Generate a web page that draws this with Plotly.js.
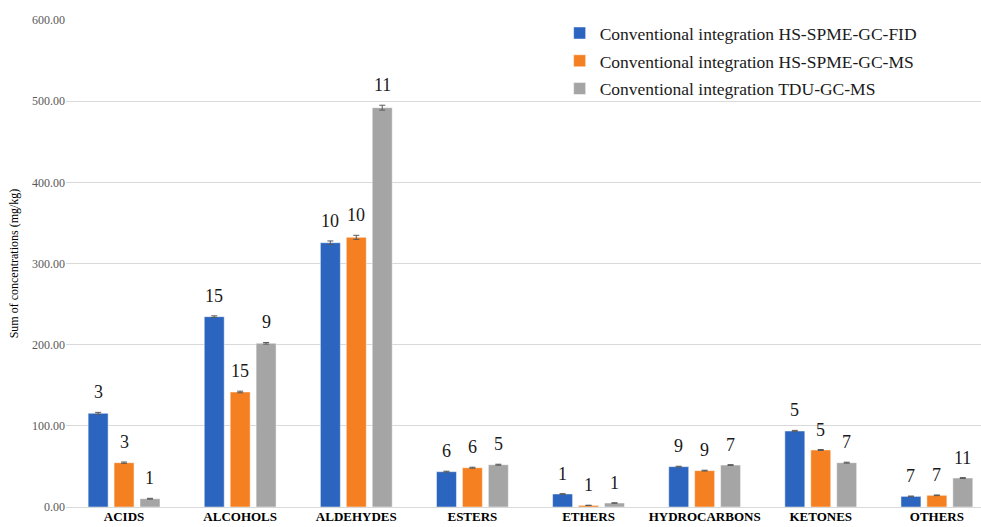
<!DOCTYPE html>
<html>
<head>
<meta charset="utf-8">
<script src="https://cdn.plot.ly/plotly-3.0.1.min.js"></script>
<style>html,body{margin:0;padding:0;background:#fff;}#chart{width:981px;height:527px;}</style>
</head>
<body>
<div id="chart"></div>
<script>
const categories = ["ACIDS","ALCOHOLS","ALDEHYDES","ESTERS","ETHERS","HYDROCARBONS","KETONES","OTHERS"];
const seriesNames = ["Conventional integration HS-SPME-GC-FID","Conventional integration HS-SPME-GC-MS","Conventional integration TDU-GC-MS"];
const fidValues = [115.4, 234.5, 325.6, 43.5, 16.0, 49.7, 93.6, 13.1];
const msValues  = [54.6, 141.7, 332.2, 48.4, 2.0, 44.8, 70.2, 14.4];
const tduValues = [10.2, 201.7, 492.0, 52.1, 4.9, 51.7, 54.6, 35.7];
const fidErrors = [1.2, 1.0, 2.2, 0.6, 0.4, 0.5, 0.8, 0.4];
const msErrors  = [0.8, 1.0, 2.5, 0.6, 0.2, 0.5, 0.6, 0.4];
const tduErrors = [0.5, 1.0, 3.0, 0.6, 0.3, 0.5, 0.6, 0.5];
const fidCounts = [3, 15, 10, 6, 1, 9, 5, 7];
const msCounts  = [3, 15, 10, 6, 1, 9, 5, 7];
const tduCounts = [1, 9, 11, 5, 1, 7, 7, 11];
const colors = ["#2B65BF", "#F58021", "#A5A5A5"];

const values = [fidValues, msValues, tduValues];
const errors = [fidErrors, msErrors, tduErrors];
const counts = [fidCounts, msCounts, tduCounts];
const SERIF = "Liberation Serif";

const traces = values.map((v, i) => ({
  type: "bar",
  name: seriesNames[i],
  legendgroup: "g" + i,
  x: categories,
  y: v,
  marker: {color: colors[i], line: {color: "rgba(255,255,255,0.6)", width: 0.8}},
  error_y: {type: "data", array: errors[i], visible: true, color: "#595959", thickness: 1, width: 3},
  hoverinfo: "y"
}));

const slotPx = 25.9;
const annotations = [];
values.forEach((v, i) => {
  v.forEach((val, j) => {
    annotations.push({
      x: categories[j], y: val + errors[i][j], xref: "x", yref: "y",
      text: String(counts[i][j]), showarrow: false,
      xshift: (i - 1) * slotPx, yanchor: "bottom", yshift: 8,
      font: {family: SERIF, size: 18, color: "#1a1a1a"}
    });
  });
});

const layout = {
  width: 981, height: 527,
  margin: {l: 66, r: 0, t: 20, b: 20},
  paper_bgcolor: "#fff", plot_bgcolor: "#fff",
  font: {family: SERIF, color: "#595959"},
  barmode: "group", bargap: 0.33, bargroupgap: 0.23,
  xaxis: {
    range: [-0.5, 7.38], showgrid: false, zeroline: false, showline: false,
    ticks: "", tickfont: {size: 13, color: "#000", family: SERIF, weight: "bold"},
    fixedrange: true
  },
  yaxis: {
    range: [0, 600], dtick: 100, tickformat: ".2f", showgrid: true, gridcolor: "#D9D9D9", gridwidth: 1,
    zeroline: true, zerolinecolor: "#D9D9D9", zerolinewidth: 1, showline: false, ticks: "",
    tickfont: {size: 12, color: "#595959", family: SERIF},
    title: {text: "Sum of concentrations (mg/kg)", font: {size: 12, color: "#000", family: SERIF}, standoff: 10},
    fixedrange: true
  },
  legend: {
    x: 0.5395, y: 1.01, xanchor: "left", yanchor: "top",
    font: {size: 17.5, color: "#1a1a1a", family: SERIF},
    bgcolor: "rgba(255,255,255,0)", itemwidth: 30,
    traceorder: "grouped", tracegroupgap: 2
  },
  annotations: annotations,
  showlegend: true
};

Plotly.newPlot("chart", traces, layout, {displayModeBar: false, staticPlot: true});
</script>
</body>
</html>
